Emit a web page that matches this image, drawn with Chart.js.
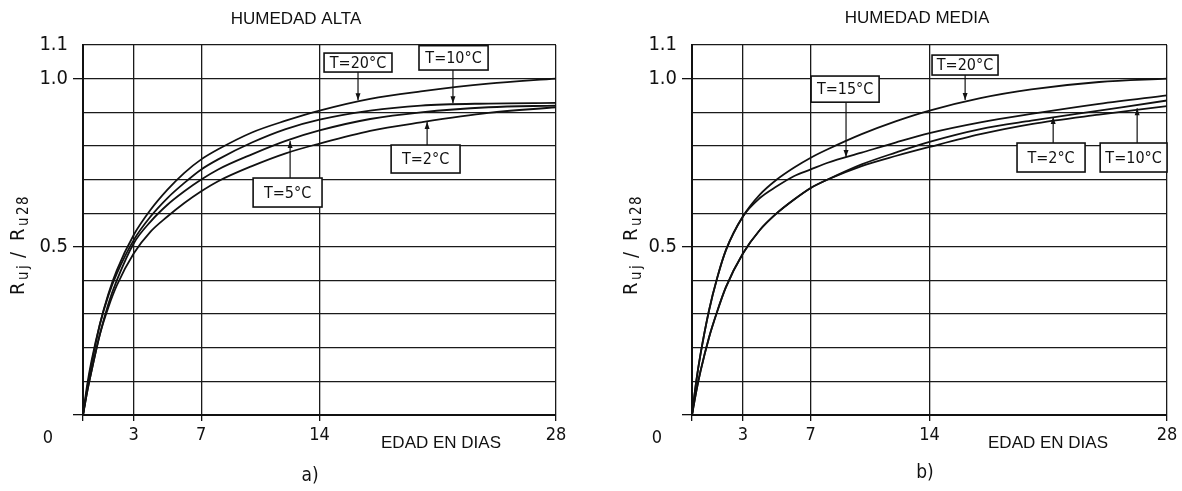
<!DOCTYPE html>
<html><head><meta charset="utf-8">
<script src="https://cdn.jsdelivr.net/npm/chart.js@4.4.1/dist/chart.umd.min.js"></script>
<style>
html,body{margin:0;padding:0;background:#fff;}
.p{position:absolute;top:0;}
</style></head>
<body>
<div class="p" style="left:0;width:590px;height:491px"><canvas id="ca" width="590" height="491"></canvas></div>
<div class="p" style="left:590px;width:592px;height:491px"><canvas id="cb" width="592" height="491"></canvas></div>
<script>
// ---- data ----
const days = [0, 0.25, 0.5, 1, 1.5, 2, 3, 4, 5, 6, 7, 8, 10, 12, 14, 17, 20, 24, 28];
// Panel a) HUMEDAD ALTA
const a_T20 = [0, 0.08, 0.15, 0.27, 0.36, 0.43, 0.535, 0.61, 0.67, 0.72, 0.76, 0.79, 0.84, 0.875, 0.905, 0.94, 0.962, 0.985, 1.0];
const a_T10 = [0, 0.09, 0.16, 0.27, 0.355, 0.42, 0.52, 0.59, 0.645, 0.69, 0.73, 0.76, 0.81, 0.85, 0.878, 0.905, 0.92, 0.926, 0.928];
const a_T5  = [0, 0.07, 0.13, 0.24, 0.33, 0.40, 0.51, 0.575, 0.625, 0.665, 0.70, 0.73, 0.775, 0.815, 0.846, 0.88, 0.90, 0.915, 0.92];
const a_T2  = [0, 0.07, 0.13, 0.24, 0.32, 0.385, 0.48, 0.545, 0.59, 0.63, 0.665, 0.695, 0.74, 0.778, 0.807, 0.845, 0.87, 0.898, 0.915];
// Panel b) HUMEDAD MEDIA
const b_T20 = [0, 0.10, 0.18, 0.31, 0.41, 0.49, 0.59, 0.655, 0.70, 0.735, 0.765, 0.79, 0.835, 0.873, 0.905, 0.942, 0.968, 0.99, 1.0];
const b_T15 = [0, 0.10, 0.18, 0.31, 0.41, 0.49, 0.59, 0.645, 0.68, 0.71, 0.73, 0.75, 0.78, 0.81, 0.838, 0.87, 0.895, 0.925, 0.95];
const b_T2  = [0, 0.07, 0.13, 0.23, 0.31, 0.38, 0.48, 0.55, 0.60, 0.64, 0.675, 0.70, 0.745, 0.78, 0.812, 0.85, 0.875, 0.905, 0.935];
const b_T10 = [0, 0.07, 0.13, 0.23, 0.31, 0.38, 0.48, 0.55, 0.60, 0.64, 0.675, 0.70, 0.74, 0.77, 0.797, 0.835, 0.865, 0.893, 0.918];

const xTicks = [0, 3, 7, 14, 28];
const xTickLabels = ['', '3', '7', '14', '28'];
const yTicks = [0, 0.1, 0.2, 0.3, 0.4, 0.5, 0.6, 0.7, 0.8, 0.9, 1.0, 1.1];
const yTickLabels = ['', '', '', '', '', '0.5', '', '', '', '', '1.0', '1.1'];
const yMarked = [0, 0.5, 1.0];

const titleA = 'HUMEDAD ALTA', titleB = 'HUMEDAD MEDIA';
const xAxisTitle = 'EDAD EN DIAS';
const zeroLabel = '0';

// annotations: box in data units, arrow x and tip value
const annA = [
  {text:'T=20°C', x1:14.27, x2:18.29, y1:1.0196, y2:1.076, ax:16.28, tip:0.936},
  {text:'T=10°C', x1:19.89, x2:23.98, y1:1.0256, y2:1.098, ax:21.9, tip:0.927},
  {text:'T=2°C',  x1:18.24, x2:22.32, y1:0.7194, y2:0.8026, ax:20.37, tip:0.871},
  {text:'T=5°C',  x1:10.07, x2:14.15, y1:0.6183, y2:0.7045, ax:12.26, tip:0.8145}
];
const annB = [
  {text:'T=20°C', x1:14.15, x2:18.04, y1:1.0107, y2:1.070, ax:16.1, tip:0.9364},
  {text:'T=15°C', x1:7.02, x2:11.03, y1:0.930, y2:1.0077, ax:9.08, tip:0.767},
  {text:'T=2°C',  x1:19.16, x2:23.17, y1:0.7224, y2:0.8086, ax:21.29, tip:0.8859},
  {text:'T=10°C', x1:24.06, x2:28.0, y1:0.7224, y2:0.8086, ax:26.24, tip:0.912}
];

const NUMF = '"DejaVu Sans Condensed", "DejaVu Sans", sans-serif';
const TXTF = '"Liberation Sans", Arial, sans-serif';
const INK = '#111';

function drawArrow(ctx, x, y0, y1) {
  ctx.beginPath(); ctx.moveTo(x, y0); ctx.lineTo(x, y1); ctx.lineWidth = 1.2; ctx.strokeStyle = INK; ctx.stroke();
  const dir = y1 > y0 ? 1 : -1;
  ctx.beginPath(); ctx.moveTo(x, y1); ctx.lineTo(x - 2.5, y1 - dir * 7); ctx.lineTo(x + 2.5, y1 - dir * 7); ctx.closePath();
  ctx.fillStyle = INK; ctx.fill();
}

function drawYTitle(ctx, cx) {
  const g = [['R',20,295,0],['u',15,280,4],['j',15,269,4],['/',20,258,0],['R',20,241,0],['u',15,226,4],['2',15,215,4],['8',15,205,4]];
  ctx.save(); ctx.translate(cx, 0); ctx.rotate(-Math.PI/2);
  ctx.fillStyle = INK; ctx.textBaseline = 'alphabetic'; ctx.textAlign = 'left';
  g.forEach(p => { ctx.font = p[1] + 'px ' + NUMF; ctx.fillText(p[0], -p[2], 7 + p[3]); });
  ctx.restore();
}

function overlay(cfg) {
  return {
    id: 'overlay',
    afterDraw(chart) {
      const ctx = chart.ctx, xs = chart.scales.x, ys = chart.scales.y, ca = chart.chartArea;
      ctx.save();
      ctx.fillStyle = INK;
      ctx.font = '17px ' + TXTF; ctx.textAlign = 'center'; ctx.textBaseline = 'middle';
      ctx.fillText(cfg.title, cfg.titleX, cfg.titleY);
      ctx.font = '17px ' + TXTF;
      ctx.fillText(xAxisTitle, cfg.xtX, 443);
      ctx.font = '18px ' + NUMF;
      ctx.fillText(zeroLabel, ca.left - 35, 438);
      ctx.font = '19px ' + NUMF;
      ctx.fillText(cfg.letter, cfg.letterX, cfg.letterY);
      drawYTitle(ctx, cfg.ytX);
      cfg.ann.forEach(a => {
        const l = xs.getPixelForValue(a.x1), r = xs.getPixelForValue(a.x2);
        const t = ys.getPixelForValue(a.y2), b = ys.getPixelForValue(a.y1);
        ctx.fillStyle = '#fff'; ctx.fillRect(l, t, r - l, b - t);
        ctx.lineWidth = 1.6; ctx.strokeStyle = INK; ctx.strokeRect(l, t, r - l, b - t);
        ctx.fillStyle = INK; ctx.font = '16px ' + NUMF; ctx.textAlign = 'center'; ctx.textBaseline = 'middle';
        ctx.fillText(a.text, (l + r) / 2, (t + b) / 2 + 1);
        const ax = xs.getPixelForValue(a.ax), tip = ys.getPixelForValue(a.tip);
        drawArrow(ctx, ax, tip > b ? b : t, tip);
      });
      ctx.restore();
    }
  };
}

function makeChart(id, series, cfg) {
  return new Chart(document.getElementById(id), {
    type: 'line',
    data: {
      datasets: series.map(s => ({
        label: s.label,
        data: days.map((d, i) => ({x: d, y: s.values[i]})),
        borderColor: INK, borderWidth: 1.8, pointRadius: 0,
        cubicInterpolationMode: 'monotone', fill: false
      }))
    },
    options: {
      responsive: false, animation: false,
      layout: {padding: {left: 0, top: 45, right: cfg.padRight, bottom: 36}},
      plugins: {legend: {display: false}, tooltip: {enabled: false}, title: {display: false}},
      scales: {
        x: {
          type: 'linear', min: 0, max: 28,
          afterBuildTicks: s => { s.ticks = xTicks.map(v => ({value: v})); },
          afterFit: s => { s.height = 40; },
          grid: {color: '#1a1a1a', lineWidth: 1.3, tickLength: 6, tickColor: INK, tickWidth: 1.3},
          border: {display: true, color: INK, width: 2},
          ticks: {callback: (v, i) => xTickLabels[i], font: {family: NUMF, size: 18}, color: INK, padding: 4, maxRotation: 0, autoSkip: false}
        },
        y: {
          type: 'linear', min: 0, max: 1.1,
          afterBuildTicks: s => { s.ticks = yTicks.map(v => ({value: v})); },
          afterFit: s => { s.width = cfg.yWidth; },
          grid: {color: '#1a1a1a', lineWidth: 1.3, tickLength: 10,
                 tickColor: c => (c.tick && yMarked.some(m => Math.abs(m - c.tick.value) < 1e-6)) ? INK : 'rgba(0,0,0,0)', tickWidth: 1.3},
          border: {display: true, color: INK, width: 2},
          ticks: {callback: (v, i) => yTickLabels[i], font: {family: NUMF, size: 20}, color: INK, padding: 5, autoSkip: false}
        }
      }
    },
    plugins: [overlay(cfg)]
  });
}

makeChart('ca', [
  {label: 'T=20°C', values: a_T20}, {label: 'T=10°C', values: a_T10},
  {label: 'T=5°C', values: a_T5}, {label: 'T=2°C', values: a_T2}
], {padRight: 34, yWidth: 83, title: titleA, titleX: 296, titleY: 19, xtX: 441, letter: 'a)', letterX: 310, letterY: 476, ytX: 17, ann: annA});

makeChart('cb', [
  {label: 'T=20°C', values: b_T20}, {label: 'T=15°C', values: b_T15},
  {label: 'T=2°C', values: b_T2}, {label: 'T=10°C', values: b_T10}
], {padRight: 15, yWidth: 102, title: titleB, titleX: 327, titleY: 18, xtX: 458, letter: 'b)', letterX: 335, letterY: 473, ytX: 40, ann: annB});
</script>
</body></html>
